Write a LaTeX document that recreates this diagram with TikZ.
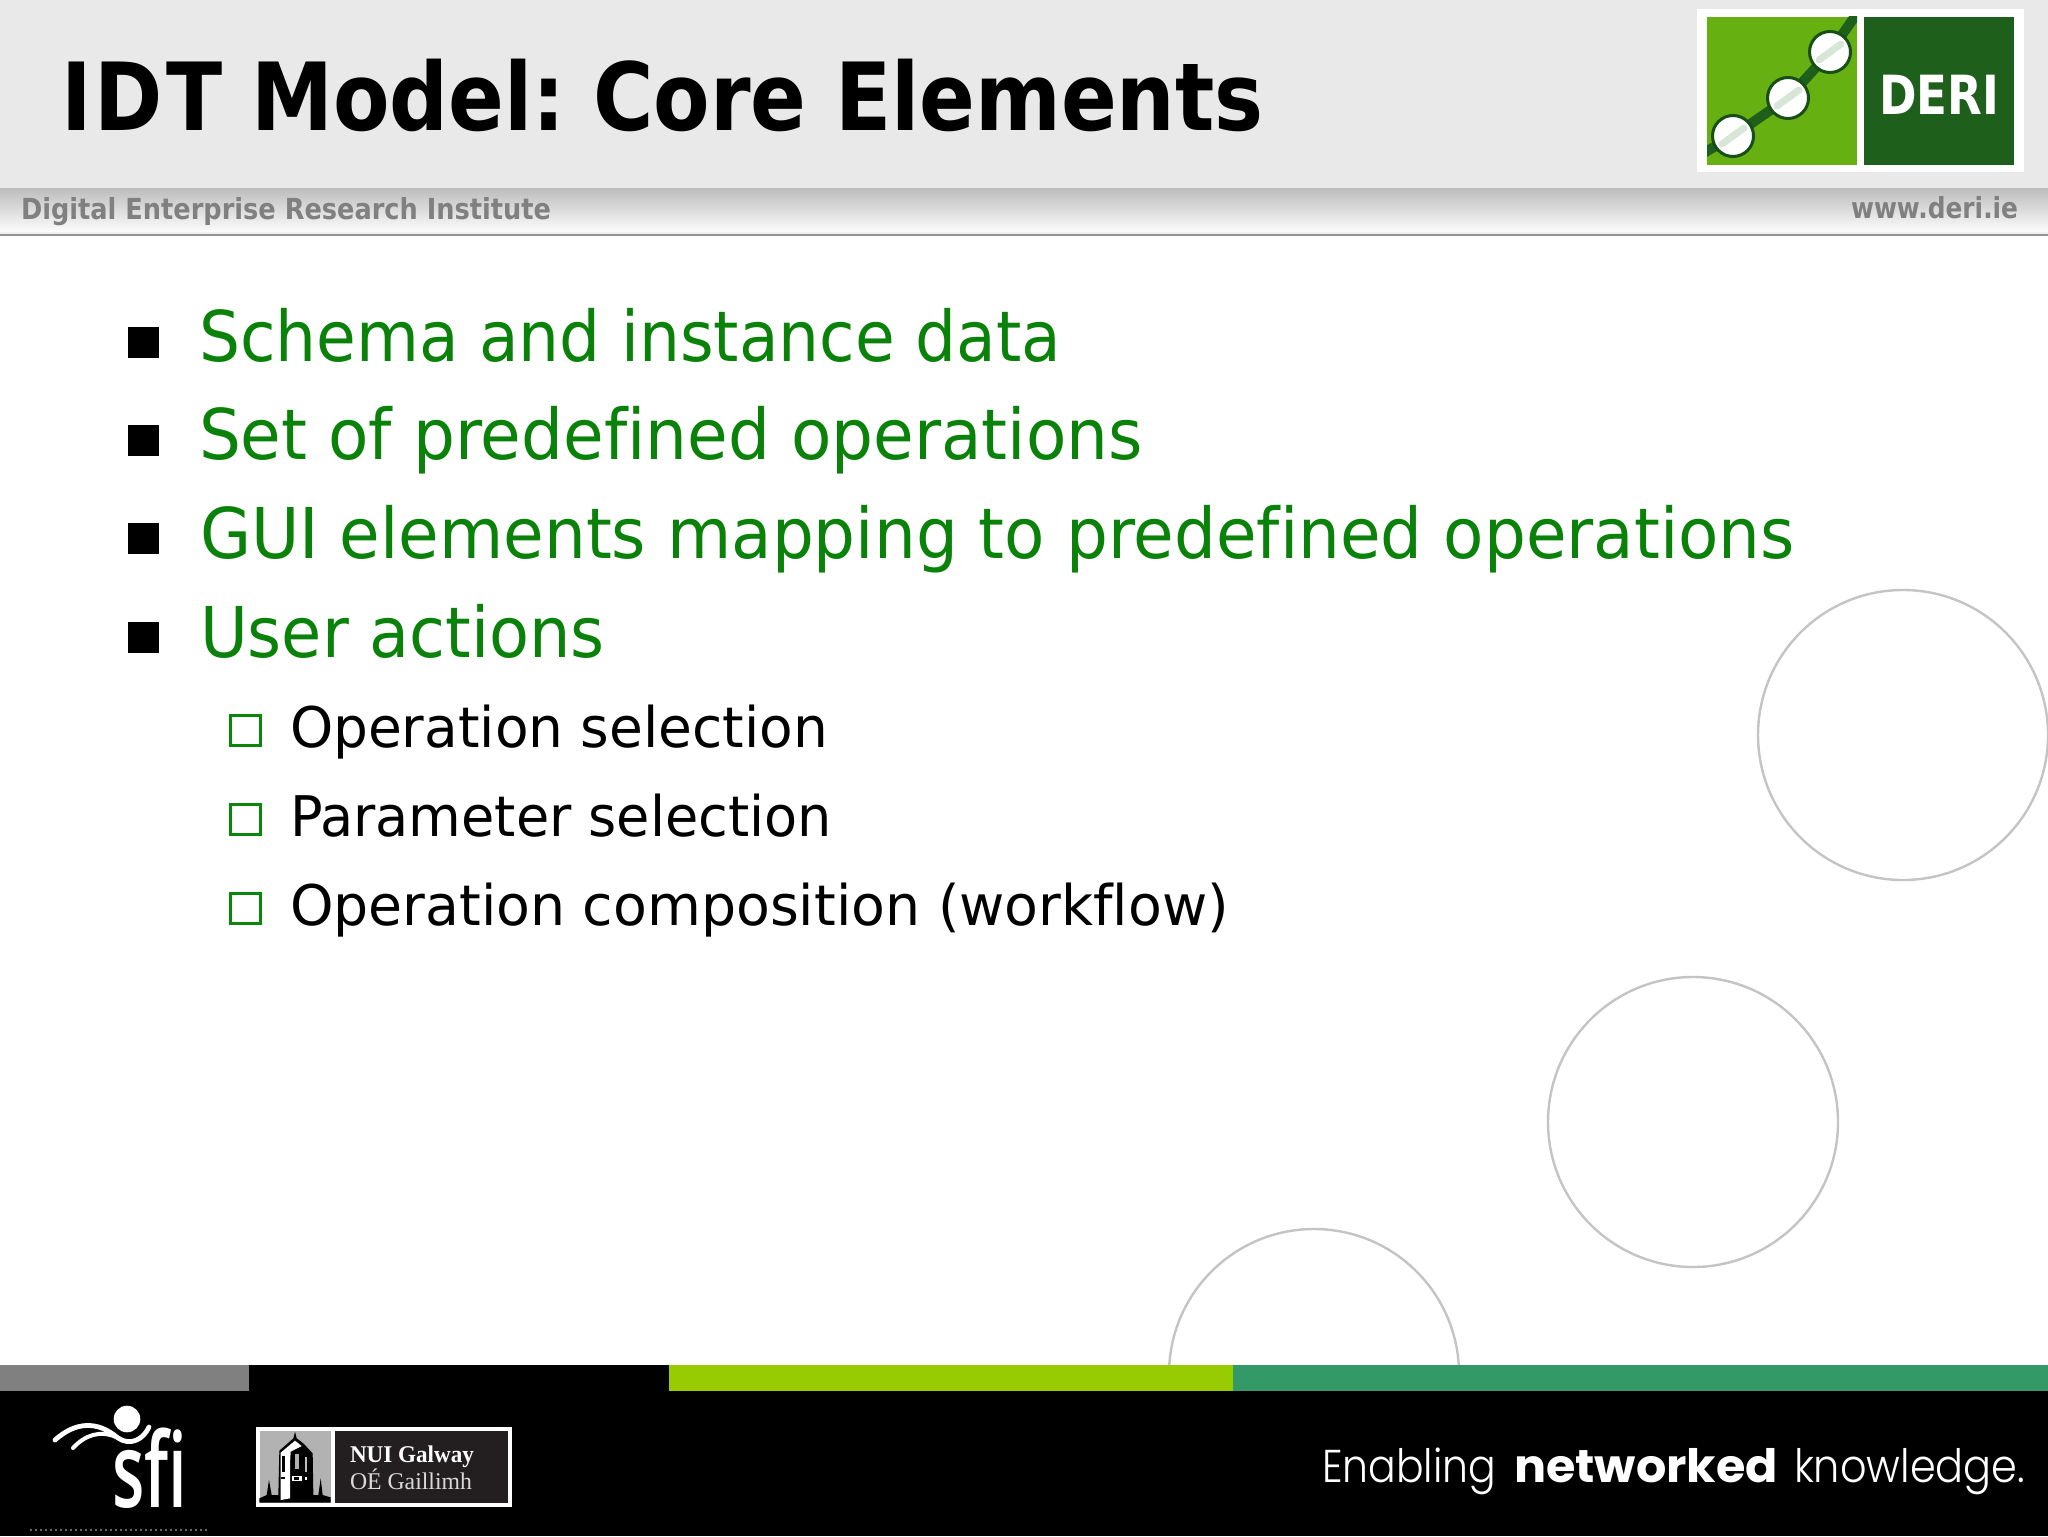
\documentclass[tikz,border=0pt]{standalone}
\usepackage{fontspec}
\usepackage{graphicx}
\setmainfont[Ligatures=NoCommon]{DejaVu Sans}
\newfontfamily\futlight{Poppins Light}
\newfontfamily\futbold{Poppins Bold}
\newfontfamily\sfifont{Open Sans Semibold}
\newfontfamily\nuifont{Liberation Serif}
\newsavebox\fitbox
\newcommand\fitw[3]{\sbox\fitbox{\fontsize{#2}{#2}\selectfont #3}\pgfmathsetmacro\fitr{#1*0.5/\wd\fitbox}\scalebox{\fitr}[1]{\usebox\fitbox}}
\definecolor{hdr}{HTML}{E9E9E9}
\definecolor{bodygreen}{HTML}{0A820A}
\definecolor{boxgreen}{HTML}{0A860A}
\definecolor{logolight}{HTML}{66B012}
\definecolor{logodark}{HTML}{1F5F1C}
\definecolor{logoring}{HTML}{174F17}
\definecolor{streak}{HTML}{D8E6D8}
\definecolor{circ}{HTML}{C4C4C4}
\definecolor{nuidark}{HTML}{231F20}
\definecolor{greyband}{HTML}{808080}
\definecolor{limeband}{HTML}{99CC00}
\definecolor{greenband}{HTML}{339966}
\tikzset{
 lab/.style={anchor=base west,inner sep=0pt,outer sep=0pt},
 maintext/.style={lab,text=bodygreen},
 subtext/.style={lab,text=black},
 headtext/.style={lab,text=black!50},
 deco/.style={draw=circ,line width=1.2pt,fill=none},
 logonode/.style={draw=logoring,line width=1.5pt,fill=white},
}
\begin{document}
\begin{tikzpicture}[x=0.5pt,y=-0.5pt]
\useasboundingbox (0,0) rectangle (2048,1536);
\fill[white] (0,0) rectangle (2048,1536);
% header
\fill[hdr] (0,0) rectangle (2048,188);
\shade[top color=black!26,bottom color=black!1] (0,188) rectangle (2048,232);
\fill[black!6] (0,232) rectangle (2048,234);
\fill[black!42] (0,234) rectangle (2048,236);
\node[lab,text=black] (title) at (61,130) {\fitw{1203}{47}{\bfseries {\addfontfeature{LetterSpace=4}IDT} Model:\hspace{-6pt} Core Elements}};
\node[headtext] (deri) at (21,219) {\fitw{530}{14.5}{\bfseries Digital Enterprise Research Institute}};
\node[headtext] (www) at (1851,218) {\fitw{167}{14.5}{\bfseries www.deri.ie}};
% logo
\fill[white] (1697,9) rectangle (2024,172);
\fill[logolight] (1707,17) rectangle (1857,165);
\fill[logodark] (1864,17) rectangle (2014,165);
\begin{scope}
\clip (1707,17) rectangle (1857,165);
\draw[logodark,line width=5pt] (1702,154) -- (1733,136) -- (1788,98) -- (1830,52) -- (1858,12);
\end{scope}
\foreach \n/\cx/\cy in {a/1733/136,b/1788/98,c/1830/52}{
 \node[circle,logonode,minimum size=20.5pt,inner sep=0pt] (\n) at (\cx,\cy) {};
 \draw[streak,line width=3.5pt,line cap=round] (\cx-11,\cy+8) -- (\cx+11,\cy-8);
}
\node[lab,text=white] (logotext) at (1879,114) {\fitw{120}{27}{\bfseries DERI}};
% bullets
\foreach \y in {327,425,523,622}{\fill[black] (128,\y) rectangle ++(31,31);}
\foreach \y in {715.5,804.5,893.5}{\draw[boxgreen,line width=1.4pt] (230.5,\y) rectangle ++(30,30);}
\node[maintext] (m1) at (199,361) {\fitw{862}{35}{Schema and instance data}};
\node[maintext] (m2) at (199,459) {\fitw{944}{35}{Set of predefined operations}};
\node[maintext] (m3) at (200,558) {\fitw{1595}{35}{GUI elements mapping to predefined operations}};
\node[maintext] (m4) at (200,657) {\fitw{405}{35}{User actions}};
\node[subtext] (s1) at (290,747) {\fitw{538}{28}{Operation selection}};
\node[subtext] (s2) at (290,836) {\fitw{542}{28}{Parameter selection}};
\node[subtext] (s3) at (290,925) {\fitw{939}{28}{Operation composition (workflow)}};
% decorative circles
\draw[deco] (1903,735) circle (145);
\draw[deco] (1693,1122) circle (145);
\draw[deco] (1314,1374) circle (145);
% footer
\fill[black] (0,1365) rectangle (2048,1536);
\fill[greyband] (0,1365) rectangle (249,1391);
\fill[limeband] (669,1365) rectangle (1233,1391);
\fill[greenband] (1233,1365) rectangle (2048,1391);
% sfi
\fill[white] (127,1419) circle (13.3);
\draw[white,line width=2.4pt,line cap=round] (55,1440) .. controls (75,1422) and (97,1420) .. (118,1438) .. controls (130,1446) and (143,1440) .. (149,1427);
\draw[white,line width=2pt,line cap=round] (73,1448) .. controls (85,1435) and (100,1430) .. (116,1437);
\node[lab,text=white] (sfi) at (112,1507) {\fitw{75}{52}{\sfifont sfi}};
\draw[black!60,line width=0.7pt,dash pattern=on 1pt off 1.5pt] (30,1530) -- (207,1530);
% NUI
\fill[white] (256,1427) rectangle (512,1507);
\fill[black!30] (260,1431) rectangle (331,1503);
\fill[nuidark] (335,1431) rectangle (508,1503);
\begin{scope}[shift={(250,1420)},x=0.1667pt,y=-0.1667pt]
\fill[black] (28,248) -- (28,235) -- (50,225) -- (57,180) -- (65,225) -- (85,225) -- (88,92) -- (130,55) -- (135,35) -- (140,55) -- (160,70) -- (188,100) -- (190,225) -- (205,225) -- (212,175) -- (218,225) -- (242,232) -- (242,248) -- cycle;
\fill[white] (92,98) -- (135,62) -- (155,78) -- (122,95) -- (120,130) -- (120,235) -- (92,240) -- cycle;
\fill[black] (97,108) rectangle (105,155);
\fill[black!30] (135,103) rectangle (146,148);
\fill[black!25] (165,110) rectangle (172,155);
\fill[black] (92,172) rectangle (105,178);
\fill[white] (125,168) rectangle (155,182);
\fill[black] (132,171) rectangle (148,179);
\fill[white] (165,171) rectangle (171,179);
\end{scope}
\node[lab,text=white] (nui1) at (350,1462) {\fitw{124}{12}{\nuifont\bfseries NUI Galway}};
\node[lab,text=white!85!black] (nui2) at (350,1489) {\fitw{122}{12}{\nuifont OÉ Gaillimh}};
% slogan
\node[lab,text=white] (e1) at (1322,1482) {\fitw{174}{23}{\futlight Enabling}};
\node[lab,text=white] (e2) at (1514,1482) {\fitw{264}{23}{\futbold networked}};
\node[lab,text=white] (e3) at (1794,1482) {\fitw{231}{23}{\futlight knowledge.}};
\end{tikzpicture}
\end{document}
